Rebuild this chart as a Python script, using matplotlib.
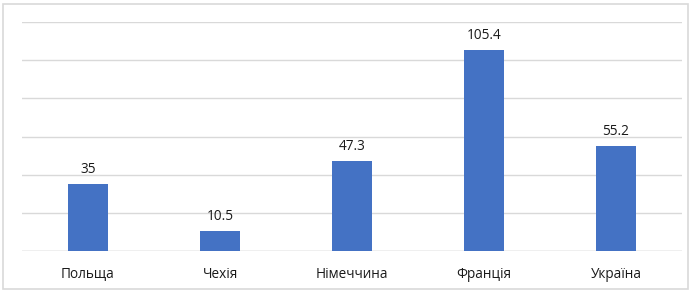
import matplotlib.pyplot as plt
from matplotlib.patches import Rectangle

countries = ['Польща', 'Чехія', 'Німеччина', 'Франція', 'Україна']
values = [35, 10.5, 47.3, 105.4, 55.2]
value_labels = ['35', '10.5', '47.3', '105.4', '55.2']

plt.rcParams['font.family'] = ['Open Sans', 'DejaVu Sans']

fig = plt.figure(figsize=(6.91, 2.92), dpi=100)
ax = fig.add_axes([22 / 691, 41 / 292, 660 / 691, 229 / 292])

x = range(len(countries))
bars = ax.bar(x, values, width=0.31, color='#4472C4', zorder=3)

for xi, v, lab in zip(x, values, value_labels):
    ax.annotate(lab, (xi, v), xytext=(0, 5), textcoords='offset points',
                ha='center', va='bottom', fontsize=9.8, color='#1a1a1a')

ax.set_xlim(-0.5, 4.5)
ax.set_ylim(0, 120)
ax.set_yticks([0, 20, 40, 60, 80, 100, 120])
ax.yaxis.grid(True, color='#d9d9d9', linewidth=1, zorder=0)
ax.axhline(0, color='#cfcfcf', linewidth=1, zorder=1)
ax.tick_params(axis='y', left=False, labelleft=False)
ax.tick_params(axis='x', bottom=False, labelsize=9.8, labelcolor='#1a1a1a', pad=8)
ax.set_xticks(list(x))
ax.set_xticklabels(countries)
for s in ax.spines.values():
    s.set_visible(False)

# light frame around the whole chart
fig.patches.append(Rectangle((3 / 691, 3 / 292), 685 / 691, 285 / 292,
                             transform=fig.transFigure, fill=False,
                             edgecolor='#d9d9d9', linewidth=1.2))

fig.savefig('out.png', dpi=100)
